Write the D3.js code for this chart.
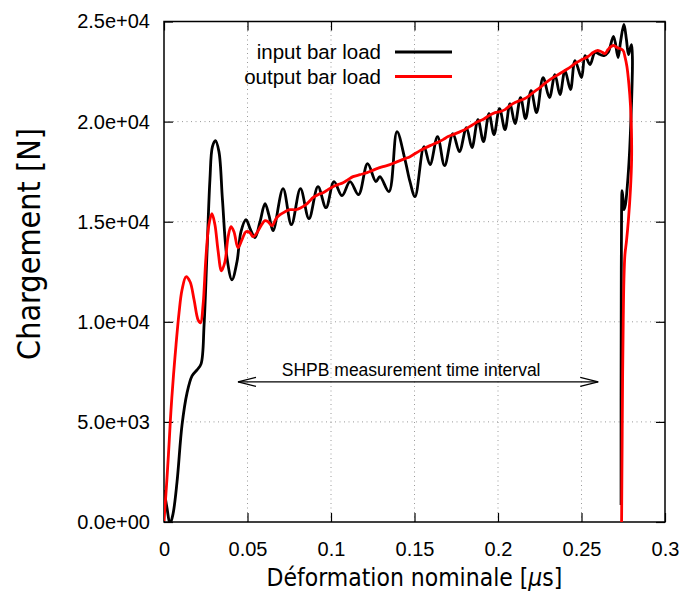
<!DOCTYPE html>
<html>
<head>
<meta charset="utf-8">
<script src="https://cdn.jsdelivr.net/npm/d3@7"></script>
<style>
  body { margin: 0; background: #fff; }
  svg { display: block; }
</style>
</head>
<body>
<script>
// ticks
const xTicks = [0, 0.05, 0.1, 0.15, 0.2, 0.25, 0.3];
const xTickLabels = ["0", "0.05", "0.1", "0.15", "0.2", "0.25", "0.3"];
const yTicks = [0, 5000, 10000, 15000, 20000, 25000];
const yTickLabels = ["0.0e+00", "5.0e+03", "1.0e+04", "1.5e+04", "2.0e+04", "2.5e+04"];
const seriesNames = ["input bar load", "output bar load"];

// input bar load (black)
const inputStrain = [0, 0.0018, 0.0036, 0.0054, 0.0078, 0.0108, 0.0138, 0.0168, 0.0198, 0.0222,
  0.024, 0.0257, 0.0275, 0.029, 0.0308, 0.0329, 0.035, 0.0377, 0.0407, 0.0437,
  0.0461, 0.0491, 0.0518, 0.0545, 0.0575, 0.0605, 0.0629, 0.0653, 0.0713, 0.0763,
  0.0817, 0.0868, 0.0922, 0.097, 0.1018, 0.1066, 0.1114, 0.1165, 0.1219, 0.1269,
  0.1293, 0.1347, 0.1395, 0.1443, 0.1473, 0.1503, 0.1557, 0.1593, 0.1638, 0.168,
  0.173, 0.1769, 0.1811, 0.1844, 0.188, 0.1913, 0.1946, 0.1976, 0.2009, 0.2042,
  0.2072, 0.2102, 0.2135, 0.2165, 0.2198, 0.2231, 0.227, 0.2308, 0.2341, 0.2371,
  0.2401, 0.2434, 0.2461, 0.25, 0.2521, 0.2551, 0.2581, 0.2611, 0.2635, 0.2659,
  0.2692, 0.2719, 0.2734, 0.2754, 0.2769, 0.2781, 0.279, 0.28, 0.2805, 0.2802,
  0.2796, 0.2787, 0.2775, 0.2763, 0.2754, 0.2748, 0.2743, 0.274, 0.2738, 0.2737, 0.2737];
const inputLoad = [1600, 700, -100, 400, 2000, 4850, 6450, 7300, 7600, 7900,
  9850, 13350, 17100, 18750, 19050, 18500, 16100, 13200, 12100, 13000,
  14500, 15100, 14600, 14200, 15000, 15900, 15300, 14550, 16650, 14850,
  16650, 15150, 16750, 15700, 17000, 16300, 17000, 16350, 17900, 17000,
  17250, 16500, 19500, 18100, 17000, 16250, 18750, 17850, 19250, 17800,
  19400, 18500, 19700, 18700, 20100, 19000, 20400, 19350, 20650, 19600,
  20900, 19900, 21200, 20150, 21550, 20450, 22200, 21200, 22350, 21350,
  22550, 21600, 23050, 22200, 23300, 22850, 23450, 23350, 23300, 23450,
  24250, 23200, 24000, 24850, 24100, 23350, 23600, 23850, 23100, 21600,
  20100, 18350, 16850, 15850, 15600, 16200, 16550, 15600, 11100, 6100, 850];

// output bar load (red)
const outputStrain = [0, 0.0009, 0.0018, 0.003, 0.0042, 0.0057, 0.0072, 0.009, 0.0108, 0.0132,
  0.0156, 0.018, 0.0204, 0.0219, 0.0234, 0.0251, 0.0269, 0.0287, 0.0305, 0.0323,
  0.0344, 0.0365, 0.0383, 0.0401, 0.0419, 0.0443, 0.0467, 0.0491, 0.0515, 0.0533,
  0.0557, 0.0581, 0.0605, 0.0623, 0.0647, 0.0671, 0.0695, 0.0725, 0.0754, 0.079,
  0.082, 0.085, 0.0874, 0.0892, 0.0922, 0.0952, 0.0982, 0.1012, 0.1042, 0.1072,
  0.1102, 0.1132, 0.1174, 0.1216, 0.1246, 0.1275, 0.1311, 0.1353, 0.1383, 0.1413,
  0.1443, 0.1473, 0.1533, 0.1593, 0.1635, 0.1671, 0.1701, 0.1731, 0.176, 0.179,
  0.182, 0.185, 0.188, 0.191, 0.1946, 0.1982, 0.2012, 0.2042, 0.2072, 0.2102,
  0.2132, 0.2171, 0.221, 0.2251, 0.2287, 0.2329, 0.2371, 0.241, 0.2437, 0.247,
  0.2503, 0.2539, 0.2569, 0.2593, 0.2617, 0.2641, 0.2659, 0.2677, 0.2695, 0.2713,
  0.2731, 0.2749, 0.276, 0.2772, 0.2784, 0.2793, 0.2799, 0.28, 0.2793, 0.2781,
  0.2769, 0.276, 0.2754, 0.275, 0.2746, 0.2743, 0.274];
const outputLoad = [50, 1100, 2200, 3850, 5600, 7350, 8850, 10450, 11600, 12250,
  12000, 11100, 10100, 9950, 10850, 13200, 14850, 15400, 14850, 13600,
  12550, 13000, 14200, 14750, 14500, 13700, 14100, 14500, 14450, 14250,
  14450, 14800, 15050, 15000, 14800, 15150, 15350, 15500, 15600, 15600,
  15700, 15850, 16050, 16200, 16350, 16450, 16600, 16750, 16850, 16950,
  17100, 17250, 17350, 17450, 17550, 17650, 17750, 17850, 17950, 18050,
  18150, 18250, 18550, 18800, 18950, 19100, 19250, 19350, 19450, 19550,
  19700, 19850, 20000, 20100, 20300, 20450, 20500, 20600, 20800, 20950,
  21050, 21200, 21450, 21700, 21950, 22200, 22400, 22600, 22750, 22950,
  23100, 23250, 23450, 23550, 23500, 23400, 23600, 23750, 23800, 23700,
  23650, 23550, 23250, 22750, 21850, 20850, 19600, 18100, 16600, 15100,
  14000, 13350, 12100, 10100, 7100, 3600, 0];

// annotation: measurement interval (strain range, load level)
const intervalStrain = [0.0443, 0.26];
const intervalLoad = 7000;
const intervalLabel = "SHPB measurement time interval";

const width = 683, height = 595;
const margin = {top: 21.5, right: 18, bottom: 73, left: 164};
const tickFont = "'Liberation Sans', Arial, sans-serif";

const svg = d3.select('body').append('svg')
  .attr('width', width)
  .attr('height', height);

const x = d3.scaleLinear().domain([0, 0.3]).range([margin.left, width - margin.right]);
const y = d3.scaleLinear().domain([0, 25000]).range([height - margin.bottom, margin.top]);

// dotted grid
const grid = svg.append('g').attr('stroke', '#9a9a9a').attr('stroke-dasharray', '1,3.5');
grid.selectAll('.gx').data(xTicks.slice(1, -1)).join('line')
  .attr('x1', d => x(d)).attr('x2', d => x(d))
  .attr('y1', y(0)).attr('y2', y(25000));
grid.selectAll('.gy').data(yTicks.slice(1, -1)).join('line')
  .attr('y1', d => y(d)).attr('y2', d => y(d))
  .attr('x1', x(0)).attr('x2', x(0.3));

// axes, ticks pointing inward
svg.append('g').attr('transform', `translate(0,${y(0)})`)
  .call(d3.axisBottom(x).tickValues(xTicks).tickFormat((d, i) => xTickLabels[i]).tickSize(-9).tickPadding(20));
svg.append('g').attr('transform', `translate(${x(0)},0)`)
  .call(d3.axisLeft(y).tickValues(yTicks).tickFormat((d, i) => yTickLabels[i]).tickSize(-9).tickPadding(14));
svg.append('g').attr('transform', `translate(0,${y(25000)})`)
  .call(d3.axisTop(x).tickValues(xTicks).tickFormat('').tickSize(-9));
svg.append('g').attr('transform', `translate(${x(0.3)},0)`)
  .call(d3.axisRight(y).tickValues(yTicks).tickFormat('').tickSize(-9));

svg.selectAll('.domain').remove();
svg.selectAll('.tick line').attr('stroke', '#000').attr('stroke-width', 1.2);
svg.selectAll('.tick text')
  .attr('font-family', tickFont)
  .attr('font-size', 20)
  .attr('fill', '#000');

// frame
svg.append('rect')
  .attr('x', x(0)).attr('y', y(25000))
  .attr('width', x(0.3) - x(0)).attr('height', y(0) - y(25000))
  .attr('fill', 'none').attr('stroke', '#000').attr('stroke-width', 1.5);

// curves
svg.append('clipPath').attr('id', 'plot-clip')
  .append('rect')
  .attr('x', x(0)).attr('y', y(25000))
  .attr('width', x(0.3) - x(0)).attr('height', y(0) - y(25000));

const line = d3.line()
  .x(d => x(d[0]))
  .y(d => y(d[1]))
  .curve(d3.curveCatmullRom.alpha(0.5));

const curves = svg.append('g').attr('clip-path', 'url(#plot-clip)');
curves.append('path')
  .datum(d3.zip(inputStrain, inputLoad))
  .attr('d', line)
  .attr('fill', 'none').attr('stroke', '#000').attr('stroke-width', 2.8)
  .attr('stroke-linejoin', 'round');
curves.append('path')
  .datum(d3.zip(outputStrain, outputLoad))
  .attr('d', line)
  .attr('fill', 'none').attr('stroke', '#ff0000').attr('stroke-width', 2.8)
  .attr('stroke-linejoin', 'round');

// legend
const legendColors = ['#000', '#ff0000'];
const legend = svg.append('g');
seriesNames.forEach((name, i) => {
  const ly = 52 + i * 24.5;
  legend.append('text')
    .attr('x', 381).attr('y', ly).attr('dy', '0.35em')
    .attr('text-anchor', 'end')
    .attr('font-family', tickFont).attr('font-size', 20.5)
    .text(name);
  legend.append('line')
    .attr('x1', 395).attr('x2', 452).attr('y1', ly).attr('y2', ly)
    .attr('stroke', legendColors[i]).attr('stroke-width', 2.8);
});

// measurement interval arrow
const ay0 = y(intervalLoad);
const xa = x(intervalStrain[0]), xb = x(intervalStrain[1]);
const arrow = svg.append('g').attr('stroke', '#000').attr('stroke-width', 1.1).attr('fill', 'none');
arrow.append('line').attr('x1', xa).attr('x2', xb).attr('y1', ay0).attr('y2', ay0);
arrow.append('path').attr('d', `M${xa + 18},${ay0 - 4.5}L${xa},${ay0}L${xa + 18},${ay0 + 4.5}`);
arrow.append('path').attr('d', `M${xb - 18},${ay0 - 4.5}L${xb},${ay0}L${xb - 18},${ay0 + 4.5}`);
svg.append('text')
  .attr('x', x(0.148)).attr('y', ay0 - 5.5)
  .attr('text-anchor', 'middle')
  .attr('font-family', tickFont).attr('font-size', 17.5)
  .text(intervalLabel);

// axis titles, font size fitted to the reference widths
const titleFont = "'Liberation Sans Narrow', 'DejaVu Sans Condensed', sans-serif";
const fitSize = (sel, target) => {
  const w = sel.node().getComputedTextLength();
  sel.attr('font-size', 29 * target / w);
};

const xt = svg.append('text')
  .attr('x', (x(0) + x(0.3)) / 2).attr('y', 586)
  .attr('text-anchor', 'middle')
  .attr('font-family', titleFont).attr('font-size', 29);
xt.append('tspan').text('Déformation nominale [');
xt.append('tspan').attr('font-style', 'italic').text('μ');
xt.append('tspan').text('s]');
fitSize(xt, 296);

const yt = svg.append('text')
  .attr('transform', 'translate(40,244) rotate(-90)')
  .attr('text-anchor', 'middle')
  .attr('font-family', titleFont).attr('font-size', 29)
  .text('Chargement [N]');
fitSize(yt, 232);
</script>
</body>
</html>
